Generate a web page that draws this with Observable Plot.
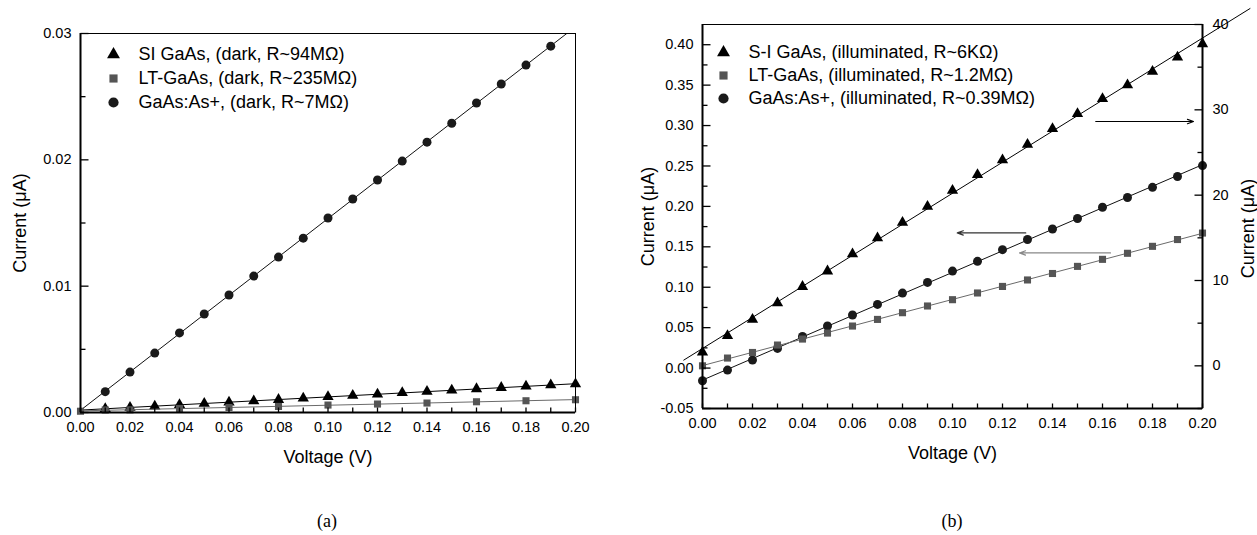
<!DOCTYPE html>
<html><head><meta charset="utf-8">
<script src="https://cdn.jsdelivr.net/npm/d3@7"></script>
<script src="https://cdn.jsdelivr.net/npm/@observablehq/plot@0.6"></script>
<style>
body{margin:0;background:#fff;font-family:"Liberation Sans",Arial,sans-serif;}
#wrap{position:relative;width:1257px;height:535px;overflow:hidden;background:#fff}
.panel{position:absolute;top:0}
.cap{position:absolute;font-family:"Liberation Serif","Times New Roman",serif;font-size:18px;transform:translate(-50%,-50%);color:#000}
</style></head><body>
<div id="wrap">
<div id="pa" class="panel" style="left:0"></div>
<div id="pb" class="panel" style="left:628px"></div>
<div class="cap" style="left:327px;top:521px">(a)</div>
<div class="cap" style="left:952px;top:521px">(b)</div>
</div>
<script>
// ---------- Panel (a): dark ----------
const darkSIV = [0.01,0.02,0.03,0.04,0.05,0.06,0.07,0.08,0.09,0.10,0.11,0.12,0.13,0.14,0.15,0.16,0.17,0.18,0.19,0.20];
const darkSII = [0.00030,0.00040,0.00050,0.00061,0.00071,0.00081,0.00091,0.00102,0.00112,0.00124,0.00134,0.00145,0.00156,0.00166,0.00176,0.00187,0.00197,0.00207,0.00217,0.00226];
const darkLTV = [0.00,0.01,0.02,0.04,0.06,0.08,0.10,0.12,0.14,0.16,0.18,0.20];
const darkLTI = [0.00010,0.00020,0.00021,0.00032,0.00040,0.00048,0.00059,0.00067,0.00075,0.00085,0.00093,0.00101];
const darkAsV = [0.01,0.02,0.03,0.04,0.05,0.06,0.07,0.08,0.09,0.10,0.11,0.12,0.13,0.14,0.15,0.16,0.17,0.18,0.19];
const darkAsI = [0.00165,0.0032,0.0047,0.0063,0.0078,0.0093,0.0108,0.0123,0.0138,0.0154,0.0169,0.0184,0.0199,0.0214,0.0229,0.0245,0.0260,0.0275,0.0290];
const darkLabels = ["SI GaAs, (dark, R~94MΩ)", "LT-GaAs, (dark, R~235MΩ)", "GaAs:As+, (dark, R~7MΩ)"];

// ---------- Panel (b): illuminated ----------
const illumV = [0.00,0.01,0.02,0.03,0.04,0.05,0.06,0.07,0.08,0.09,0.10,0.11,0.12,0.13,0.14,0.15,0.16,0.17,0.18,0.19,0.20];
const illumSI = [1.60,3.53,5.42,7.36,9.28,11.1,13.1,14.99,16.79,18.66,20.54,22.38,24.13,25.93,27.78,29.53,31.29,32.9,34.5,36.17,37.73]; // right axis (μA)
const illumLT = [0.0028,0.0124,0.0193,0.0285,0.0359,0.0433,0.052,0.0602,0.0685,0.0768,0.0846,0.0929,0.101,0.109,0.117,0.1258,0.1345,0.142,0.1506,0.159,0.167];
const illumAs = [-0.0157,-0.0025,0.0099,0.0243,0.039,0.052,0.0656,0.0788,0.0928,0.106,0.120,0.132,0.1465,0.159,0.172,0.185,0.199,0.211,0.2236,0.237,0.2505];
const illumLabels = ["S-I GaAs, (illuminated, R~6KΩ)", "LT-GaAs, (illuminated, R~1.2MΩ)", "GaAs:As+, (illuminated, R~0.39MΩ)"];
const siFitRange = [-0.0075, 0.219];
const arrowsB = [
  {x1: 0.1573, x2: 0.1964, y: 0.305, c: "#000"},
  {x1: 0.1293, x2: 0.1019, y: 0.1672, c: "#333"},
  {x1: 0.1632, x2: 0.1268, y: 0.1424, c: "#888"}
];

// Axis ticks
const aXTicks = d3.range(0, 21).map(i => i / 100);
const aXLabels = d3.range(0, 11).map(i => i / 50);
const aYMajor = [0, 0.01, 0.02, 0.03];
const aYMinor = [0.005, 0.015, 0.025];
const bYMajor = [-0.05,0,0.05,0.10,0.15,0.20,0.25,0.30,0.35,0.40];
const bYMinor = [-0.025,0.025,0.075,0.125,0.175,0.225,0.275,0.325,0.375];
const rMajor = [0, 10, 20, 30, 40];
const rMinor = [-5, 5, 15, 25, 35];
const leftDomain = [-0.05, 0.425];
const rightDomain = [-5, 40];
const toLeft = r => leftDomain[0] + (r - rightDomain[0]) / (rightDomain[1] - rightDomain[0]) * (leftDomain[1] - leftDomain[0]);

const styles = {
  SI: {symbol: "triangle", fill: "#000", r: 4.2, line: "#000"},
  LT: {symbol: "square", fill: "#555", r: 4.0, line: "#6a6a6a"},
  As: {symbol: "circle", fill: "#1a1a1a", r: 4.5, line: "#111"}
};

function fit(xs, ys) {
  const mx = d3.mean(xs), my = d3.mean(ys);
  let num = 0, den = 0;
  xs.forEach((x, i) => { num += (x - mx) * (ys[i] - my); den += (x - mx) ** 2; });
  const b = num / den;
  return {a: my - b * mx, b};
}
function fitLine(xs, ys, range, conv = d => d) {
  const f = fit(xs, ys);
  return range.map(v => ({x: v, y: conv(f.a + f.b * v)}));
}
const pts = (xs, ys, conv = d => d) => xs.map((x, i) => ({x, y: conv(ys[i])}));
const tickSym = (dx, dy) => ({draw(ctx) { ctx.moveTo(0, 0); ctx.lineTo(dx, dy); }});
const fmt2 = d => d.toFixed(2);

function tickMarks(xTicks, yMajor, yMinor) {
  return [
    Plot.dot(xTicks, {x: d => d, frameAnchor: "bottom", symbol: tickSym(0, -5), stroke: "#000", strokeWidth: 1.3, fill: "none"}),
    Plot.dot(yMajor, {y: d => d, frameAnchor: "left", symbol: tickSym(8, 0), stroke: "#000", strokeWidth: 1.3, fill: "none"}),
    Plot.dot(yMinor, {y: d => d, frameAnchor: "left", symbol: tickSym(5, 0), stroke: "#000", strokeWidth: 1.3, fill: "none"})
  ];
}
function legend(labels, dx, dy0, step) {
  const keys = ["SI", "LT", "As"];
  return keys.flatMap((k, i) => [
    Plot.dot([0], {frameAnchor: "top-left", dx, dy: dy0 + step * i, symbol: styles[k].symbol, r: styles[k].r + 0.6, fill: styles[k].fill}),
    Plot.text([labels[i]], {text: d => d, frameAnchor: "top-left", dx: dx + 25, dy: dy0 + step * i, textAnchor: "start", lineAnchor: "middle", fontSize: 18, fill: "#000"})
  ]);
}
function series(k, data, lineData, clip = false) {
  const s = styles[k];
  return [
    Plot.line(lineData, {x: "x", y: "y", stroke: s.line, strokeWidth: 1, clip}),
    Plot.dot(data, {x: "x", y: "y", symbol: s.symbol, r: s.r, fill: s.fill})
  ];
}

const common = {style: {fontFamily: "'Liberation Sans', Arial, sans-serif", fontSize: "14.5px", background: "transparent", overflow: "visible", color: "#000"}};
const xLab = {text: d => d, frameAnchor: "bottom", dy: 45, lineAnchor: "middle", textAnchor: "middle", fontSize: 18, fill: "#000"};

// Panel (a)
const plotA = Plot.plot({
  ...common,
  width: 628, height: 480,
  marginLeft: 80, marginRight: 53, marginTop: 33, marginBottom: 68,
  x: {domain: [0, 0.2], axis: null},
  y: {domain: [0, 0.03], axis: null},
  marks: [
    ...series("As", pts(darkAsV, darkAsI), fitLine(darkAsV, darkAsI, [0, 0.2]), true),
    ...series("SI", pts(darkSIV, darkSII), fitLine(darkSIV, darkSII, [0, 0.2])),
    ...series("LT", pts(darkLTV, darkLTI), fitLine(darkLTV, darkLTI, [0, 0.2])),
    Plot.ruleY([0.03], {stroke: "#000", strokeWidth: 1}),
    Plot.ruleX([0.2], {stroke: "#000", strokeWidth: 1}),
    Plot.ruleX([0], {stroke: "#000", strokeWidth: 2}),
    Plot.ruleY([0], {stroke: "#000", strokeWidth: 2}),
    ...tickMarks(aXTicks, aYMajor, aYMinor),
    Plot.text(aXLabels, {x: d => d, text: fmt2, frameAnchor: "bottom", dy: 15, lineAnchor: "middle", fontSize: 14.5, fill: "#000"}),
    Plot.text(aYMajor, {y: d => d, text: fmt2, frameAnchor: "left", dx: -9, textAnchor: "end", lineAnchor: "middle", fontSize: 14.5, fill: "#000"}),
    Plot.text(["Voltage (V)"], xLab),
    Plot.text(["Current (μA)"], {text: d => d, frameAnchor: "left", dx: -60, rotate: -90, textAnchor: "middle", lineAnchor: "middle", fontSize: 18, fill: "#000"}),
    ...legend(darkLabels, 33, 21, 24)
  ]
});
document.getElementById("pa").append(plotA);

// Panel (b)
const plotB = Plot.plot({
  ...common,
  width: 629, height: 480,
  marginLeft: 74, marginRight: 55, marginTop: 24, marginBottom: 72,
  x: {domain: [0, 0.2], axis: null},
  y: {domain: leftDomain, axis: null},
  marks: [
    ...series("SI", pts(illumV, illumSI, toLeft), fitLine(illumV, illumSI, siFitRange, toLeft)),
    ...series("As", pts(illumV, illumAs), fitLine(illumV, illumAs, [0, 0.2])),
    ...series("LT", pts(illumV, illumLT), fitLine(illumV, illumLT, [0, 0.2])),
    Plot.arrow(arrowsB, {x1: "x1", x2: "x2", y1: "y", y2: "y", stroke: d => d.c, strokeWidth: 1.2, headLength: 8, headAngle: 40}),
    Plot.ruleY([leftDomain[1]], {stroke: "#000", strokeWidth: 1}),
    Plot.ruleX([0], {stroke: "#000", strokeWidth: 2}),
    Plot.ruleX([0.2], {stroke: "#000", strokeWidth: 2}),
    Plot.ruleY([leftDomain[0]], {stroke: "#000", strokeWidth: 2}),
    ...tickMarks(aXTicks, bYMajor, bYMinor),
    Plot.dot(rMajor.map(toLeft), {y: d => d, frameAnchor: "right", symbol: tickSym(-8, 0), stroke: "#000", strokeWidth: 1.3, fill: "none"}),
    Plot.dot(rMinor.map(toLeft), {y: d => d, frameAnchor: "right", symbol: tickSym(-5, 0), stroke: "#000", strokeWidth: 1.3, fill: "none"}),
    Plot.text(aXLabels, {x: d => d, text: fmt2, frameAnchor: "bottom", dy: 15, lineAnchor: "middle", fontSize: 14.5, fill: "#000"}),
    Plot.text(bYMajor, {y: d => d, text: fmt2, frameAnchor: "left", dx: -9, textAnchor: "end", lineAnchor: "middle", fontSize: 14.5, fill: "#000"}),
    Plot.text(rMajor, {y: d => toLeft(d), text: d => String(d), frameAnchor: "right", dx: 10, textAnchor: "start", lineAnchor: "middle", fontSize: 14.5, fill: "#000"}),
    Plot.text(["Voltage (V)"], xLab),
    Plot.text(["Current (μA)"], {text: d => d, frameAnchor: "left", dx: -54, rotate: -90, textAnchor: "middle", lineAnchor: "middle", fontSize: 18, fill: "#000"}),
    Plot.text(["Current (μA)"], {text: d => d, frameAnchor: "right", dx: 46, dy: 12, rotate: -90, textAnchor: "middle", lineAnchor: "middle", fontSize: 18, fill: "#000"}),
    ...legend(illumLabels, 21, 28, 23)
  ]
});
document.getElementById("pb").append(plotB);
</script>
</body></html>
